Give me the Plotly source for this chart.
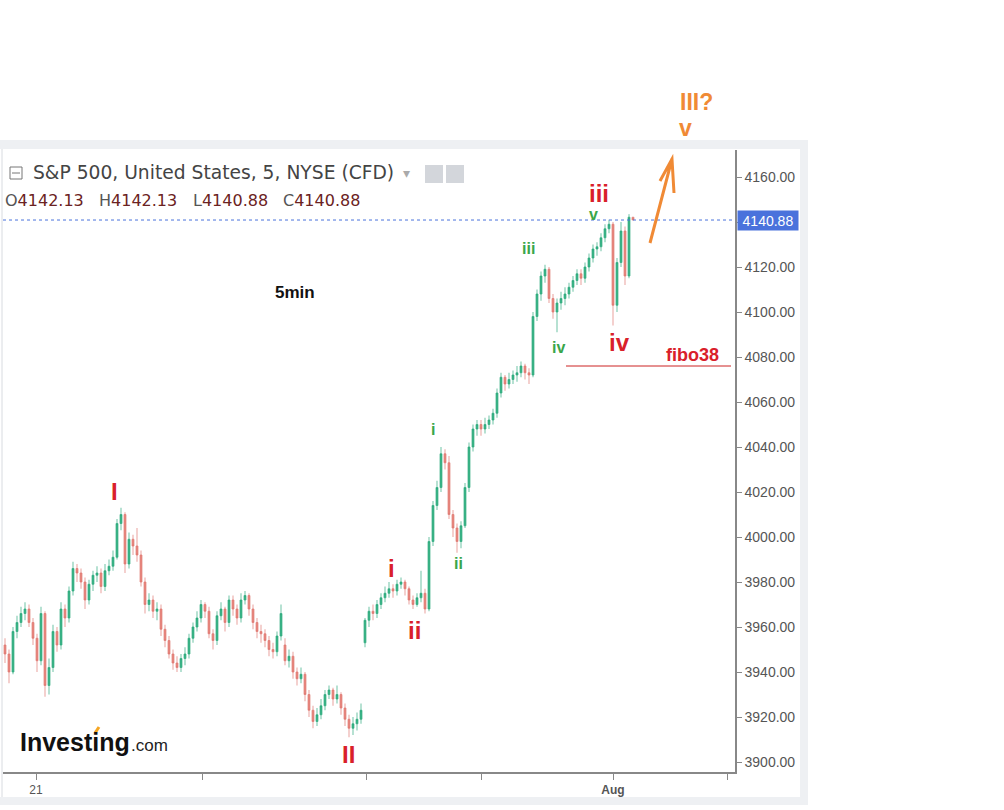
import plotly.graph_objects as go

# S&P 500 CFD, 5-minute candles
opens = [3952, 3948, 3940, 3958, 3962, 3966, 3968, 3962, 3955, 3945,
         3966, 3934, 3942, 3958, 3952, 3968, 3964, 3976, 3986, 3984,
         3980, 3972, 3979, 3983, 3984, 3978, 3985, 3987, 3991, 4006,
         4010, 3988, 3999, 3996, 3992, 3980, 3970, 3972, 3967, 3968,
         3959, 3954, 3948, 3944, 3942, 3946, 3948, 3955, 3960, 3964,
         3970, 3967, 3957, 3954, 3965, 3968, 3962, 3972, 3968, 3964,
         3972, 3974, 3968, 3962, 3958, 3957, 3954, 3950, 3949, 3956,
         3952, 3945, 3947, 3940, 3937, 3939, 3930, 3923, 3918, 3921,
         3925, 3930, 3932, 3928, 3930, 3924, 3919, 3915, 3917, 3919,
         3953, 3963, 3967, 3966, 3970, 3973, 3975, 3977, 3976, 3979,
         3980, 3977, 3972, 3970, 3973, 3975, 3968, 3998, 4014, 4022,
         4037, 4033, 4010, 4004, 3998, 4005, 4022, 4040, 4048, 4050,
         4048, 4050, 4052, 4055, 4064, 4071, 4068, 4070, 4072, 4073,
         4076, 4073, 4072, 4098, 4108, 4116, 4119, 4106, 4100, 4104,
         4106, 4108, 4111, 4114, 4117, 4115, 4120, 4124, 4128, 4129,
         4133, 4137, 4139, 4103, 4122, 4136, 4116, 4142.13]
highs = [3955, 3950, 3960, 3965, 3969, 3971, 3970, 3964, 3957, 3969,
         3967, 3946, 3961, 3960, 3971, 3970, 3978, 3989, 3988, 3986,
         3982, 3981, 3985, 3987, 3986, 3988, 3990, 3994, 4008, 4013,
         4011, 4002, 4001, 4004, 3994, 3982, 3975, 3974, 3971, 3970,
         3961, 3956, 3950, 3947, 3948, 3951, 3957, 3962, 3967, 3972,
         3971, 3969, 3959, 3967, 3971, 3969, 3974, 3974, 3970, 3975,
         3976, 3975, 3970, 3964, 3961, 3959, 3956, 3953, 3958, 3970,
         3955, 3950, 3949, 3942, 3942, 3940, 3932, 3925, 3924, 3928,
         3932, 3934, 3933, 3934, 3931, 3926, 3921, 3920, 3922, 3926,
         3964, 3969, 3970, 3972, 3975, 3978, 3980, 3979, 3981, 3982,
         3981, 3978, 3974, 3975, 3985, 3977, 4000, 4016, 4025, 4040,
         4039, 4036, 4012, 4006, 4007, 4024, 4042, 4050, 4052, 4052,
         4053, 4054, 4057, 4066, 4073, 4072, 4073, 4074, 4076, 4078,
         4077, 4075, 4100, 4110, 4118, 4121, 4120, 4108, 4106, 4109,
         4111, 4113, 4116, 4119, 4119, 4122, 4126, 4130, 4131, 4135,
         4139, 4141, 4140, 4124, 4140, 4138, 4143.5, 4142.13]
lows = [3944, 3935, 3939, 3955, 3960, 3963, 3960, 3952, 3940, 3943,
        3929, 3930, 3940, 3949, 3950, 3960, 3962, 3974, 3980, 3977,
        3968, 3970, 3976, 3980, 3975, 3976, 3983, 3985, 3990, 4003,
        3984, 3986, 3992, 3989, 3978, 3966, 3967, 3964, 3963, 3956,
        3951, 3946, 3941, 3940, 3940, 3943, 3946, 3953, 3958, 3962,
        3964, 3955, 3950, 3952, 3963, 3958, 3960, 3965, 3961, 3962,
        3970, 3965, 3959, 3955, 3953, 3951, 3947, 3946, 3947, 3954,
        3943, 3942, 3937, 3934, 3935, 3927, 3920, 3915, 3916, 3919,
        3923, 3928, 3925, 3926, 3921, 3916, 3911, 3912, 3914, 3917,
        3951, 3960, 3963, 3964, 3968, 3971, 3973, 3973, 3974, 3977,
        3974, 3970, 3968, 3969, 3971, 3966, 3967, 3996, 4012, 4020,
        4030, 4008, 4000, 3993, 3995, 4004, 4020, 4038, 4045, 4045,
        4046, 4048, 4050, 4053, 4062, 4065, 4066, 4068, 4069, 4071,
        4070, 4068, 4071, 4096, 4105, 4113, 4104, 4097, 4091, 4101,
        4103, 4106, 4109, 4112, 4112, 4113, 4118, 4122, 4125, 4127,
        4131, 4135, 4094, 4100, 4120, 4112, 4115, 4140.88]
closes = [3948, 3940, 3958, 3962, 3966, 3968, 3962, 3955, 3945, 3966,
          3934, 3942, 3958, 3952, 3968, 3964, 3976, 3986, 3984, 3980,
          3972, 3979, 3983, 3984, 3978, 3985, 3987, 3991, 4006, 4010,
          3988, 3999, 3996, 3992, 3980, 3970, 3972, 3967, 3968, 3959,
          3954, 3948, 3944, 3942, 3946, 3948, 3955, 3960, 3964, 3970,
          3967, 3957, 3954, 3965, 3968, 3962, 3972, 3968, 3964, 3972,
          3974, 3968, 3962, 3958, 3957, 3954, 3950, 3949, 3956, 3966,
          3945, 3947, 3940, 3937, 3939, 3930, 3923, 3918, 3921, 3925,
          3930, 3932, 3928, 3930, 3924, 3919, 3915, 3917, 3919, 3923,
          3963, 3967, 3966, 3970, 3973, 3975, 3977, 3976, 3979, 3980,
          3977, 3972, 3970, 3973, 3975, 3968, 3998, 4014, 4022, 4037,
          4033, 4010, 4004, 3998, 4005, 4022, 4040, 4048, 4050, 4048,
          4050, 4052, 4055, 4064, 4071, 4068, 4070, 4072, 4073, 4076,
          4073, 4072, 4098, 4108, 4116, 4119, 4106, 4100, 4104, 4106,
          4108, 4111, 4114, 4117, 4115, 4120, 4124, 4128, 4129, 4133,
          4137, 4139, 4103, 4122, 4136, 4116, 4142.13, 4140.88]

# time axis ticks (bar positions) and labels
tick_pos = [7.75, 49.25, 90.25, 119, 152, 180.5]
tick_txt = ["21", "", "", "", "<b>Aug</b>", ""]
price_ticks = [3900, 3920, 3940, 3960, 3980, 4000, 4020, 4040, 4060, 4080,
               4100, 4120, 4140, 4160]
fibo38 = 4076

# wave labels: (text, pixel x, pixel y, color, size)
RED, GREEN, ORANGE = "#d9202a", "#3aa64a", "#f08a35"
wave_labels = [
    ("I", 114, 491, RED, 24), ("II", 348, 754, RED, 24),
    ("i", 391, 568, RED, 24), ("ii", 415, 630, RED, 24),
    ("iii", 599, 193, RED, 24), ("iv", 619, 342, RED, 24),
    ("i", 433, 429, GREEN, 16), ("ii", 458, 563, GREEN, 16),
    ("iii", 528, 249, GREEN, 16), ("iv", 558, 347, GREEN, 16),
    ("v", 593, 215, GREEN, 16),
    ("III?", 696, 102, ORANGE, 23), ("v", 685, 128, ORANGE, 23),
]
ohlc_row = [("O", "4142.13", 3), ("H", "4142.13", 97), ("L", "4140.88", 191), ("C", "4140.88", 281)]

W, H = 1004, 810
L, R, T, B = 3, 735, 150, 772


def px(x):
    return (x - L) / (R - L)


def py(y):
    return (B - y) / (B - T)


def label(text, x, y, color, size, family="Liberation Sans", xanchor="center"):
    return dict(text=text, x=px(x), y=py(y), xref="paper", yref="paper", showarrow=False,
                xanchor=xanchor, yanchor="middle", font=dict(color=color, size=size, family=family))


x = list(range(len(closes)))
fig = go.Figure()
fig.add_trace(go.Candlestick(
    x=x, open=opens, high=highs, low=lows, close=closes,
    increasing=dict(line=dict(color="#2eaa7e", width=0.7), fillcolor="#3bb487"),
    decreasing=dict(line=dict(color="#e07a72", width=0.7), fillcolor="#e8877f"),
    whiskerwidth=0, showlegend=False, hoverinfo="skip"))

ann = [label("<b>%s</b>" % t, xx, yy, c, s) for t, xx, yy, c, s in wave_labels]
ann += [
    label("<b>5min</b>", 295, 292, "#111", 17),
    label("<b>fibo38</b>", 692, 355, RED, 18),
    label("S&P 500, United States, 5, NYSE (CFD)", 31, 173, "#444", 18.7, "DejaVu Sans", "left"),
    label("▾", 407, 173, "#aaa", 14),
    label("<b>Investing</b>", 18, 742, "#111", 25, xanchor="left"),
    label(".com", 129, 745, "#222", 17, xanchor="left"),
    dict(text="%.2f" % closes[-1], x=px(737), y=closes[-1], xref="paper", yref="y", xanchor="left",
         yanchor="middle", showarrow=False, bgcolor="#4a72dc", width=58, height=17, borderpad=1,
         font=dict(color="white", size=14, family="Liberation Sans")),
]
for letter, val, xx in ohlc_row:
    ann.append(label("%s<span style='color:#6b2222'>%s</span>" % (letter, val), xx, 200, "#555", 16,
                     "DejaVu Sans", "left"))

shapes = [
    # chart frame bands
    dict(type="rect", xref="paper", yref="paper", x0=px(0), x1=px(808), y0=py(149), y1=py(140),
         fillcolor="#eef0f3", line=dict(width=0), layer="below"),
    dict(type="rect", xref="paper", yref="paper", x0=px(800), x1=px(808), y0=py(805), y1=py(140),
         fillcolor="#eef0f3", line=dict(width=0), layer="below"),
    dict(type="rect", xref="paper", yref="paper", x0=px(0), x1=px(808), y0=py(805), y1=py(797),
         fillcolor="#eef0f3", line=dict(width=0), layer="below"),
    dict(type="line", xref="paper", yref="paper", x0=px(2), x1=px(2), y0=py(797), y1=py(149),
         line=dict(color="#d8dbe0", width=1)),
    # title icons
    dict(type="rect", xref="paper", yref="paper", x0=px(10), x1=px(22), y0=py(179), y1=py(167),
         line=dict(color="#777", width=1)),
    dict(type="line", xref="paper", yref="paper", x0=px(12), x1=px(20), y0=py(173), y1=py(173),
         line=dict(color="#777", width=1)),
    dict(type="rect", xref="paper", yref="paper", x0=px(425), x1=px(443), y0=py(183), y1=py(165),
         fillcolor="#d3d6db", line=dict(width=0)),
    dict(type="rect", xref="paper", yref="paper", x0=px(446), x1=px(464), y0=py(183), y1=py(165),
         fillcolor="#d3d6db", line=dict(width=0)),
    # logo accent
    dict(type="line", xref="paper", yref="paper", x0=px(95), x1=px(99), y0=py(733), y1=py(727),
         line=dict(color="#f5a623", width=3)),
    # last price dotted line
    dict(type="line", xref="paper", yref="y", x0=0, x1=1, y0=closes[-1], y1=closes[-1],
         line=dict(color="#4a72dc", width=1, dash="dot")),
    # fibo38 level
    dict(type="line", xref="x", yref="y", x0=140.25, x1=181.5, y0=fibo38, y1=fibo38,
         line=dict(color="#cc2222", width=1)),
    # hand-drawn orange arrow
    dict(type="path", xref="paper", yref="paper",
         path="M %f,%f L %f,%f M %f,%f L %f,%f L %f,%f" % (
             px(650), py(243), px(672), py(159), px(660), py(181), px(672), py(159), px(674), py(193)),
         line=dict(color=ORANGE, width=3)),
]

fig.update_layout(
    width=W, height=H,
    margin=dict(l=L, r=W - R, t=T, b=H - B),
    paper_bgcolor="white", plot_bgcolor="white",
    showlegend=False,
    annotations=ann, shapes=shapes,
    xaxis=dict(range=[-0.5, 182.5], rangeslider=dict(visible=False), showgrid=False, zeroline=False,
               showline=True, linecolor="#888", linewidth=1.5, ticks="outside", ticklen=6,
               tickcolor="#888", tickvals=tick_pos, ticktext=tick_txt,
               tickfont=dict(color="#555", size=12, family="Liberation Sans")),
    yaxis=dict(side="right", range=[3900 - 10 / 2.25, 3900 + 612 / 2.25], showgrid=False, zeroline=False,
               showline=True, linecolor="#888", linewidth=1.5, ticks="outside", ticklen=5,
               tickcolor="#888", tickvals=price_ticks, tickformat=".2f",
               tickfont=dict(color="#555", size=14, family="Liberation Sans")),
)

fig.write_html("out.html", config={"displayModeBar": False},
               post_script="document.body.style.margin='0';")
